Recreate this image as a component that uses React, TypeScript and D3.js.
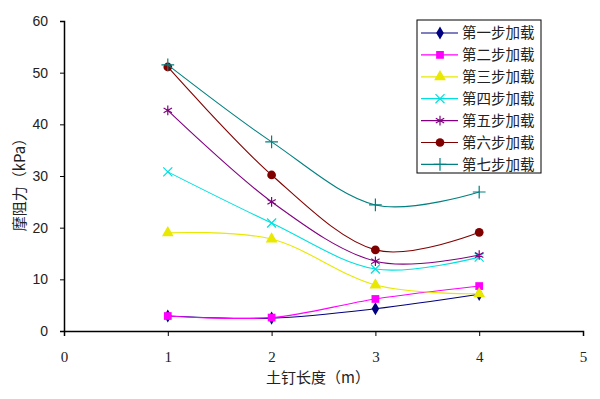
import * as d3 from "d3";
import { useEffect, useRef } from "react";

// nail length (m)
const lengths = [1, 2, 3, 4];
const seriesNames = ["第一步加载", "第二步加载", "第三步加载", "第四步加载", "第五步加载", "第六步加载", "第七步加载"];
const step1 = [2.9, 2.5, 4.3, 7.1];
const step2 = [2.9, 2.6, 6.2, 8.7];
const step3 = [19.0, 17.8, 8.9, 7.2];
const step4 = [30.8, 20.9, 12.0, 14.3];
const step5 = [42.7, 25.0, 13.5, 14.7];
const step6 = [51.1, 30.2, 15.7, 19.1];
const step7 = [51.5, 36.6, 24.4, 26.9];
const xTicks = [0, 1, 2, 3, 4, 5];
const yTicks = [0, 10, 20, 30, 40, 50, 60];

const colors = ["#000080", "#ff00ff", "#e8e800", "#00e0e0", "#800080", "#800000", "#008080"];
const shapes = ["diamond", "square", "triangle", "x", "star", "circle", "plus"];

const App = () => {
  const svgRef = useRef<SVGSVGElement>(null);

  useEffect(() => {
    const w = 600;
    const h = 399;
    const m = { left: 64, right: 17, top: 21, bottom: 68 };
    const svg = d3.select(svgRef.current).attr("width", w).attr("height", h);
    svg.selectAll("*").remove();
    svg.append("rect").attr("width", w).attr("height", h).attr("fill", "#fff");

    const x = d3.scaleLinear().domain([0, 5]).range([m.left, w - m.right]);
    const y = d3.scaleLinear().domain([0, 60]).range([h - m.bottom, m.top]);

    const allSeries = [step1, step2, step3, step4, step5, step6, step7];

    // axes
    const xAxis = d3.axisBottom(x).tickValues(xTicks).tickSize(5).tickPadding(15).tickFormat(d3.format("d"));
    const yAxis = d3.axisLeft(y).tickValues(yTicks).tickSize(4).tickPadding(12).tickFormat(d3.format("d"));
    const gx = svg.append("g").attr("transform", `translate(0,${h - m.bottom})`).call(xAxis);
    const gy = svg.append("g").attr("transform", `translate(${m.left},0)`).call(yAxis);
    gx.select(".domain").attr("stroke", "#000").attr("stroke-width", 1.5);
    gy.select(".domain").attr("stroke", "#000").attr("stroke-width", 1.5);
    gx.selectAll(".tick text").attr("font-family", "'Liberation Serif', serif").attr("font-size", 15).attr("fill", "#222");
    gy.selectAll(".tick text").attr("font-family", "'Liberation Sans', Arial, sans-serif").attr("font-size", 14).attr("fill", "#222");

    const symbolFor = (s: string) => {
      switch (s) {
        case "diamond": return d3.symbol().type(d3.symbolDiamond).size(50);
        case "square": return d3.symbol().type(d3.symbolSquare).size(60);
        case "triangle": return d3.symbol().type(d3.symbolTriangle).size(60);
        case "x": return d3.symbol().type(d3.symbolX).size(55);
        case "star": return d3.symbol().type(d3.symbolAsterisk).size(65);
        case "circle": return d3.symbol().type(d3.symbolCircle).size(60);
        default: return d3.symbol().type(d3.symbolPlus).size(55);
      }
    };
    const isStroke = (s: string) => s === "x" || s === "star" || s === "plus";

    const line = d3
      .line<number>()
      .x((d, i) => x(lengths[i]))
      .y((d) => y(d))
      .curve(d3.curveCardinal.tension(0));

    const drawSymbol = (sel: any, k: number) =>
      sel
        .attr("d", symbolFor(shapes[k])() as string)
        .attr("fill", isStroke(shapes[k]) ? "none" : colors[k])
        .attr("stroke", colors[k])
        .attr("stroke-width", isStroke(shapes[k]) ? 1.2 : 0);

    allSeries.forEach((data, k) => {
      const g = svg.append("g");
      g.append("path")
        .attr("d", line(data))
        .attr("fill", "none")
        .attr("stroke", colors[k])
        .attr("stroke-width", 1.1);
      const pts = g.selectAll("path.pt")
        .data(data)
        .join("path")
        .attr("class", "pt")
        .attr("transform", (d, i) => `translate(${x(lengths[i])},${y(d)})`);
      drawSymbol(pts, k);
    });

    // legend
    const lg = svg.append("g").attr("transform", "translate(417,20)");
    lg.append("rect").attr("width", 124).attr("height", 153).attr("fill", "#fff").attr("stroke", "#000").attr("stroke-width", 1);
    seriesNames.forEach((name, k) => {
      const yy = 13 + k * 21.9;
      lg.append("line").attr("x1", 4).attr("x2", 41).attr("y1", yy).attr("y2", yy).attr("stroke", colors[k]).attr("stroke-width", 1.2);
      drawSymbol(lg.append("path").attr("transform", `translate(23,${yy})`), k);
      lg.append("text")
        .attr("x", 45)
        .attr("y", yy)
        .attr("dy", "0.36em")
        .attr("font-family", "'Noto Sans CJK SC', sans-serif")
        .attr("font-size", 14.5)
        .attr("fill", "#222")
        .text(name);
    });

    // axis titles
    svg.append("text")
      .attr("x", 318)
      .attr("y", 383)
      .attr("text-anchor", "middle")
      .attr("font-family", "'Noto Sans CJK SC', sans-serif")
      .attr("font-size", 15)
      .attr("fill", "#222")
      .text("土钉长度（m）");
    svg.append("text")
      .attr("transform", "translate(25,181) rotate(-90)")
      .attr("text-anchor", "middle")
      .attr("font-family", "'Noto Sans CJK SC', sans-serif")
      .attr("font-size", 15)
      .attr("fill", "#222")
      .text("摩阻力（kPa）");
  }, []);

  return <svg ref={svgRef} style={{ display: "block", margin: -8 }}></svg>;
};

export default App;
